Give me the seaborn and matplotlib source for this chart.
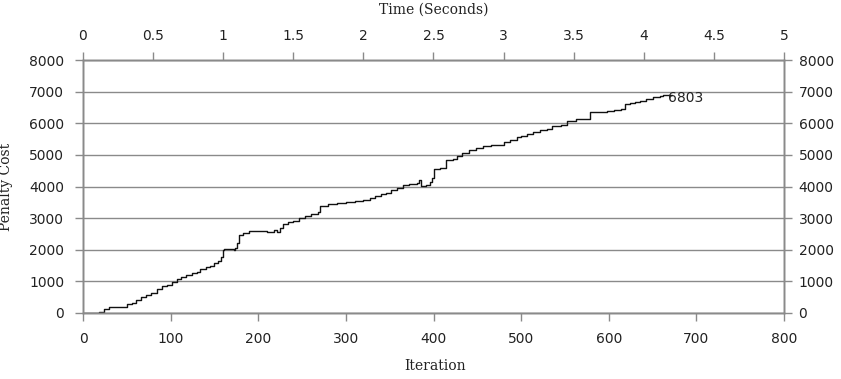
import matplotlib
matplotlib.use("Agg")
import matplotlib.pyplot as plt
import seaborn as sns
import pandas as pd

# ---- data ----
iterations = [0, 18, 24, 30, 44, 50, 56, 60, 66, 72, 78, 84, 90, 96, 102, 107,
              112, 118, 124, 130, 134, 140, 145, 150, 154, 157, 160, 161, 172,
              174, 176, 178, 183, 190, 200, 210, 218, 221, 225, 228, 234, 240,
              247, 253, 260, 268, 271, 280, 290, 300, 310, 320, 327, 333, 340,
              346, 351, 358, 365, 372, 381, 383, 386, 391, 396, 398, 401, 407,
              414, 422, 427, 432, 440, 448, 457, 466, 476, 480, 487, 495, 500,
              507, 514, 522, 529, 535, 546, 552, 563, 571, 579, 598, 606, 614,
              618, 624, 630, 636, 643, 650, 658, 662, 672]
penalty_cost = [0, 40, 120, 180, 200, 280, 330, 420, 520, 580, 640, 760, 840, 900,
                980, 1080, 1140, 1200, 1270, 1300, 1380, 1440, 1500, 1580, 1660,
                1780, 1980, 2030, 1980, 2060, 2200, 2480, 2540, 2580, 2600, 2570,
                2620, 2560, 2700, 2830, 2870, 2920, 2990, 3060, 3120, 3180, 3380,
                3440, 3470, 3500, 3540, 3580, 3640, 3700, 3760, 3800, 3880, 3940,
                4060, 4080, 4100, 4220, 4020, 4060, 4150, 4260, 4540, 4600, 4830,
                4880, 4970, 5060, 5150, 5220, 5280, 5300, 5320, 5410, 5460, 5560,
                5600, 5650, 5720, 5790, 5820, 5910, 5940, 6080, 6120, 6150, 6360,
                6390, 6420, 6440, 6610, 6640, 6680, 6710, 6780, 6820, 6860, 6900,
                6900]
final_label = "6803"
final_label_value = 6803
iteration_ticks = [0, 100, 200, 300, 400, 500, 600, 700, 800]
time_ticks = [0, 0.5, 1, 1.5, 2, 2.5, 3, 3.5, 4, 4.5, 5]
time_tick_labels = ["0", "0.5", "1", "1.5", "2", "2.5", "3", "3.5", "4", "4.5", "5"]
cost_ticks = [0, 1000, 2000, 3000, 4000, 5000, 6000, 7000, 8000]

sns.set_theme(style="white")
plt.rcParams["font.family"] = ["DejaVu Sans"]

GRAY = "#8a8a8a"
TXT = "#222222"

fig = plt.figure(figsize=(8.41, 3.79), dpi=100)
ax = fig.add_axes([83 / 841, 1 - 313 / 379, 701 / 841, 253 / 379])

df = pd.DataFrame({"Iteration": iterations, "Penalty Cost": penalty_cost})
sns.lineplot(data=df, x="Iteration", y="Penalty Cost", ax=ax, color="#111111",
             linewidth=1.0, drawstyle="steps-post", estimator=None, sort=False)

ax.set_xlim(0, 800)
ax.set_ylim(0, 8000)
ax.set_xticks(iteration_ticks)
ax.set_yticks(cost_ticks)
ax.yaxis.grid(True, color=GRAY, linewidth=1.0)
ax.xaxis.grid(False)
for s in ax.spines.values():
    s.set_color(GRAY)
    s.set_linewidth(1.0)
ax.tick_params(axis="both", direction="out", length=5.5, width=1.0, color=GRAY,
               labelsize=10, labelcolor=TXT, left=True, bottom=True)
ax.tick_params(axis="x", pad=8)
ax.tick_params(axis="y", pad=8)

serif = ["DejaVu Serif"]
ax.set_xlabel("Iteration", family=serif, fontsize=10, color=TXT)
ax.xaxis.set_label_coords(0.502, -0.18)
ax.set_ylabel("Penalty Cost", family=serif, fontsize=10, color=TXT)
ax.yaxis.set_label_coords(-0.1, 0.5)

# right axis
axr = ax.twinx()
axr.set_ylim(0, 8000)
axr.set_yticks(cost_ticks)
axr.tick_params(axis="y", direction="out", length=5.5, width=1.0, color=GRAY,
                labelsize=10, labelcolor=TXT, right=True, pad=5)
axr.grid(False)
for s in axr.spines.values():
    s.set_color(GRAY)
    s.set_linewidth(1.0)

# top axis (time)
axt = ax.twiny()
axt.set_xlim(0, 5)
axt.set_xticks(time_ticks)
axt.set_xticklabels(time_tick_labels)
axt.tick_params(axis="x", direction="out", length=5.5, width=1.0, color=GRAY,
                labelsize=10, labelcolor=TXT, top=True, pad=7)
axt.grid(False)
for s in axt.spines.values():
    s.set_color(GRAY)
    s.set_linewidth(1.0)
axt.set_xlabel("Time (Seconds)", family=serif, fontsize=10, color=TXT)
axt.xaxis.set_label_coords(0.5, 1.2)
axt.xaxis.label.set_va("center")

ax.text(iterations[-1] - 4, final_label_value, final_label, fontsize=10,
        color=TXT, ha="left", va="center")

fig.savefig("out.png", dpi=100)
